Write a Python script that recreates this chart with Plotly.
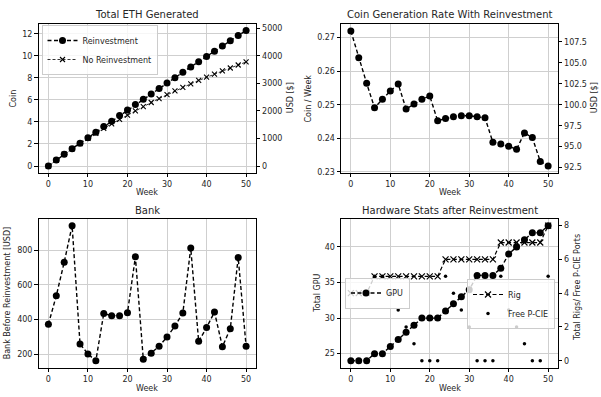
import plotly.graph_objects as go

# ---------------- data ----------------
weeks = list(range(0, 51, 2))

eth_reinvest = [0.00, 0.54, 1.06, 1.57, 2.07, 2.57, 3.07, 3.58, 4.07, 4.57,
                5.07, 5.57, 6.06, 6.54, 7.03, 7.52, 8.01, 8.50, 8.99, 9.46,
                9.94, 10.41, 10.88, 11.36, 11.83, 12.30]
eth_no_reinvest = [0.00, 0.54, 1.07, 1.57, 2.04, 2.51, 2.97, 3.41, 3.83, 4.23,
                   4.62, 5.01, 5.39, 5.76, 6.12, 6.47, 6.81, 7.13, 7.45, 7.76,
                   8.06, 8.34, 8.62, 8.89, 9.16, 9.44]
coin_rate = [0.2720, 0.2640, 0.2564, 0.2491, 0.2516, 0.2541, 0.2562, 0.2487,
             0.2502, 0.2516, 0.2526, 0.2452, 0.2459, 0.2464, 0.2467, 0.2467,
             0.2464, 0.2461, 0.2388, 0.2383, 0.2376, 0.2367, 0.2416, 0.2402,
             0.2331, 0.2317]
bank_usd = [373, 538, 731, 942, 260, 202, 163, 435, 423, 423, 440, 762, 171,
            206, 246, 300, 363, 438, 813, 275, 354, 444, 244, 348, 758, 246]
total_gpu = [24, 24, 24, 25, 25, 26, 27, 28, 29, 30, 30, 30, 31, 32, 33, 34,
             36, 36, 36, 37, 39, 40, 41, 42, 42, 43]
total_rigs = [4, 4, 4, 5, 5, 5, 5, 5, 5, 5, 5, 5, 6, 6, 6, 6, 6, 6, 6, 7, 7,
              7, 7, 7, 7, 8]
free_pcie = [0, 0, 0, 5, 5, 4, 3, 2, 1, 0, 0, 0, 5, 4, 3, 2, 0, 0, 0, 5, 3,
             2, 1, 0, 0, 5]
ETH_USD = 400

x_ticks = [0, 10, 20, 30, 40, 50]
coin_ticks = [0, 2, 4, 6, 8, 10, 12]
usd_ticks = [0, 1000, 2000, 3000, 4000, 5000]
rate_ticks = [0.23, 0.24, 0.25, 0.26, 0.27]
rate_usd_ticks = [92.5, 95.0, 97.5, 100.0, 102.5, 105.0, 107.5]
bank_ticks = [200, 400, 600, 800]
gpu_ticks = [25, 30, 35, 40]
rig_ticks = [0, 2, 4, 6, 8]

# ---------------- geometry helpers ----------------
W, H = 601, 397


def px(x):
    return x / W


def py(y):
    return 1 - y / H


LEFT = (38.5, 256.0)
RIGHT = (341.0, 558.0)
TOP = (23.6, 172.8)
BOT = (218.9, 367.5)

FONT = "DejaVu Sans"
TXT = "#262626"
GRID = "#cfcfcf"
DASH = "4px,2.5px"

usd_reinvest = [v * ETH_USD for v in eth_reinvest]
usd_rate = [v * ETH_USD for v in coin_rate]

fig = go.Figure()

# --- plot 1: Total ETH generated
fig.add_trace(go.Scatter(
    x=weeks, y=eth_reinvest, name="Reinvestment", xaxis="x", yaxis="y",
    mode="lines+markers", line=dict(color="black", width=1.4, dash=DASH),
    marker=dict(symbol="circle", size=7, color="black"), legend="legend"))
fig.add_trace(go.Scatter(
    x=weeks, y=eth_no_reinvest, name="No Reinvestment", xaxis="x", yaxis="y",
    mode="lines+markers", line=dict(color="black", width=0.8, dash="3px,2px"),
    marker=dict(symbol="x-thin", size=5, color="black",
                line=dict(width=1.1, color="black")), legend="legend"))
fig.add_trace(go.Scatter(
    x=weeks, y=usd_reinvest, xaxis="x", yaxis="y2", mode="markers",
    opacity=0, showlegend=False, hoverinfo="skip"))

# --- plot 2: coin generation rate
fig.add_trace(go.Scatter(
    x=weeks, y=coin_rate, xaxis="x2", yaxis="y3", showlegend=False,
    mode="lines+markers", line=dict(color="black", width=1.4, dash=DASH),
    marker=dict(symbol="circle", size=7, color="black")))
fig.add_trace(go.Scatter(
    x=weeks, y=usd_rate, xaxis="x2", yaxis="y4", mode="markers",
    opacity=0, showlegend=False, hoverinfo="skip"))

# --- plot 3: bank
fig.add_trace(go.Scatter(
    x=weeks, y=bank_usd, xaxis="x3", yaxis="y5", showlegend=False,
    mode="lines+markers", line=dict(color="black", width=1.4, dash=DASH),
    marker=dict(symbol="circle", size=7, color="black")))

# --- plot 4: hardware
fig.add_trace(go.Scatter(
    x=weeks, y=total_gpu, name="GPU", xaxis="x4", yaxis="y6",
    mode="lines+markers", line=dict(color="black", width=1.4, dash=DASH),
    marker=dict(symbol="circle", size=7, color="black"), legend="legend2"))
fig.add_trace(go.Scatter(
    x=weeks, y=total_rigs, name="Rig", xaxis="x4", yaxis="y7",
    mode="lines+markers", line=dict(color="black", width=1.2, dash=DASH),
    marker=dict(symbol="x-thin", size=6, color="black",
                line=dict(width=1.2, color="black")), legend="legend3"))
fig.add_trace(go.Scatter(
    x=weeks, y=free_pcie, name="Free P-CIE", xaxis="x4", yaxis="y7",
    mode="markers", marker=dict(symbol="circle", size=3.5, color="black"),
    legend="legend3"))

tickfont = dict(family=FONT, size=8, color=TXT)


def xax(dom, anchor):
    return dict(domain=[px(dom[0]), px(dom[1])], anchor=anchor,
                range=[-2.5, 52.5], tickmode="array", tickvals=x_ticks,
                showgrid=True, gridcolor=GRID, gridwidth=0.8,
                showline=True, linecolor="black", linewidth=0.9, mirror=True,
                ticks="outside", ticklen=3.5, tickwidth=0.8, tickcolor="black",
                tickfont=tickfont, zeroline=False, automargin=False)


def yleft(dom, anchor, rng, vals, fmt=None):
    d = dict(domain=[py(dom[1]), py(dom[0])], anchor=anchor, range=rng,
             tickmode="array", tickvals=vals, showgrid=True, gridcolor=GRID,
             gridwidth=0.8, showline=True, linecolor="black", linewidth=0.9,
             mirror=True, ticks="outside", ticklen=3.5, tickwidth=0.8,
             tickcolor="black", tickfont=tickfont, zeroline=False,
             automargin=False)
    if fmt:
        d["tickformat"] = fmt
    return d


def yright(over, anchor, rng, vals, fmt=None):
    d = dict(overlaying=over, side="right", anchor=anchor, range=rng,
             tickmode="array", tickvals=vals, showgrid=False, showline=True,
             linecolor="black", linewidth=0.9, ticks="outside", ticklen=3.5,
             tickwidth=0.8, tickcolor="black", tickfont=tickfont,
             zeroline=False, automargin=False)
    if fmt:
        d["tickformat"] = fmt
    return d


leg_common = dict(bgcolor="rgba(255,255,255,0.8)", bordercolor="#cccccc",
                  borderwidth=1, font=dict(family=FONT, size=8, color=TXT),
                  itemwidth=30, tracegroupgap=0)

coin_rng = [-0.615, 12.915]
rate_rng = [0.2297, 0.2742]
fig.update_layout(
    width=W, height=H,
    margin=dict(l=0, r=0, t=0, b=0, pad=0, autoexpand=False),
    paper_bgcolor="white", plot_bgcolor="white",
    font=dict(family=FONT, size=8, color=TXT),
    xaxis=xax(LEFT, "y"),
    yaxis=yleft(TOP, "x", coin_rng, coin_ticks),
    yaxis2=yright("y", "x", [v * ETH_USD for v in coin_rng], usd_ticks),
    xaxis2=xax(RIGHT, "y3"),
    yaxis3=yleft(TOP, "x2", rate_rng, rate_ticks, ".2f"),
    yaxis4=yright("y3", "x2", [v * ETH_USD for v in rate_rng],
                  rate_usd_ticks, ".1f"),
    xaxis3=xax(LEFT, "y5"),
    yaxis5=yleft(BOT, "x3", [124, 981], bank_ticks),
    xaxis4=xax(RIGHT, "y6"),
    yaxis6=yleft(BOT, "x4", [23.05, 43.95], gpu_ticks),
    yaxis7=yright("y6", "x4", [-0.4, 8.4], rig_ticks),
    legend=dict(x=px(41.5), y=py(25), xanchor="left", yanchor="top",
                **leg_common),
    legend2=dict(x=px(345), y=py(293), xanchor="left", yanchor="middle",
                 **leg_common),
    legend3=dict(x=px(555), y=py(279), xanchor="right", yanchor="top",
                 **leg_common),
)

annots = []


def note(text, x, y, size=8, angle=0):
    annots.append(dict(text=text, x=px(x), y=py(y), xref="paper",
                       yref="paper", showarrow=False, xanchor="center",
                       yanchor="middle", textangle=angle,
                       font=dict(family=FONT, size=size, color=TXT)))


lc = (LEFT[0] + LEFT[1]) / 2
rc = (RIGHT[0] + RIGHT[1]) / 2
note("Total ETH Generated", lc, 15, 10)
note("Coin Generation Rate With Reinvestment", rc, 15, 10)
note("Bank", lc, 210.3, 10)
note("Hardware Stats after Reinvestment", rc, 210.5, 10)
note("Week", lc, 192.7)
note("Week", rc, 192.7)
note("Week", lc, 388.7)
note("Week", rc, 388.7)
note("Coin", 13.3, 98.2, angle=-90)
note("USD [$]", 290, 98.2, angle=-90)
note("Coin / Week", 308.3, 98.2, angle=-90)
note("USD [$]", 594, 98.2, angle=-90)
note("Bank Before Reinvestment [USD]", 7.3, 293, angle=-90)
note("Total GPU", 316.7, 293, angle=-90)
note("Total Rigs/ Free P-CIE Ports", 577, 288, angle=-90)
fig.update_layout(annotations=annots)

fig.write_html(
    "out.html",
    config={"displayModeBar": False},
    post_script="document.body.style.margin='0';"
                "document.body.style.padding='0';")
